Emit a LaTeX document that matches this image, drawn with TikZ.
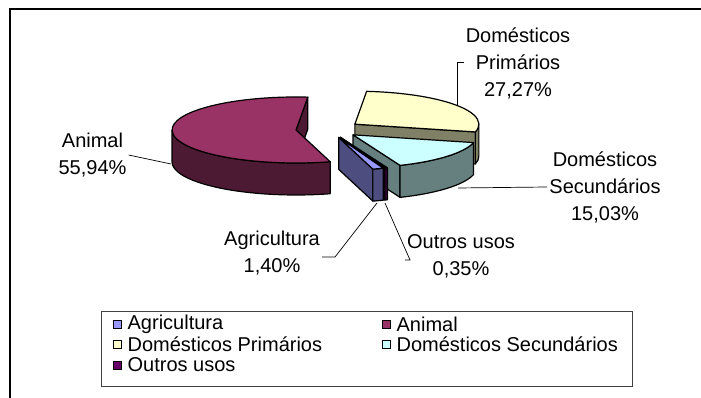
\documentclass[tikz,border=0pt]{standalone}
\usepackage{fontspec}
\setmainfont{Liberation Sans}
\usetikzlibrary{calc,positioning}

\def\rx{124}
\def\ry{33}
\def\dep{32}

\definecolor{agriTop}{HTML}{9999FF}
\definecolor{agriSide}{HTML}{4D4D80}
\definecolor{animTop}{HTML}{993366}
\definecolor{animSide}{HTML}{4D1A33}
\definecolor{primTop}{HTML}{FFFFCC}
\definecolor{primSide}{HTML}{808066}
\definecolor{secTop}{HTML}{CCFFFF}
\definecolor{secSide}{HTML}{668080}
\definecolor{outTop}{HTML}{660066}
\definecolor{outSide}{HTML}{330033}

% one cut face, the outer wall and the top of a slice
\newcommand{\sliceface}[3]{%
  \filldraw[slice, fill=#3] (#1) -- ++({\rx*cos(#2)},{\ry*sin(#2)}) -- ++(0,-\dep) -- ++({-\rx*cos(#2)},{-\ry*sin(#2)}) -- cycle;}
\newcommand{\slicewall}[4]{%
  \filldraw[slice, fill=#4] ($(#1)+({\rx*cos(#2)},{\ry*sin(#2)})$) arc[start angle=#2, end angle=#3, x radius=\rx, y radius=\ry] -- ++(0,-\dep) arc[start angle=#3, end angle=#2, x radius=\rx, y radius=\ry] -- cycle;}
\newcommand{\slicetop}[4]{%
  \filldraw[slice, fill=#4] (#1) -- ++({\rx*cos(#2)},{\ry*sin(#2)}) arc[start angle=#2, end angle=#3, x radius=\rx, y radius=\ry] -- cycle;}

\tikzset{
  slice/.style={draw=black, line width=1.2, line join=round},
  lbl/.style={font=\fontsize{20}{27}\selectfont, align=center, inner sep=2pt},
  leader/.style={draw=black, line width=0.7},
  legmark/.style={draw=black, line width=0.9, minimum size=8, inner sep=0pt},
  legtext/.style={font=\fontsize{20}{20}\selectfont, inner sep=0pt}
}

\begin{document}
\begin{tikzpicture}[x=1pt,y=1pt]
  \useasboundingbox (0,0) rectangle (701,398);
  \draw[line width=1.2] (10,0) -- (10,389) -- (701,389);

  \coordinate (pieC) at (328.4,268.8);
  \coordinate (animC) at ($(pieC)+(185.29:32.5 and 8.65)$);
  \coordinate (primC) at ($(pieC)+(35.48:32.5 and 8.65)$);
  \coordinate (secC) at ($(pieC)+(-40.67:32.5 and 8.65)$);
  \coordinate (agriC) at ($(pieC)+(288.5:32.5 and 8.65)$);
  \coordinate (outC) at ($(pieC)+(291.65:32.5 and 8.65)$);

  % Domesticos Primarios
  \sliceface{primC}{346.39}{primSide}
  \slicewall{primC}{346.39}{360}{primSide}
  \slicetop{primC}{-13.61}{84.56}{primTop}
  % Animal
  \sliceface{animC}{84.56}{animSide}
  \slicewall{animC}{180}{285.98}{animSide}
  \slicetop{animC}{84.56}{285.98}{animTop}
  % Domesticos Secundarios
  \sliceface{secC}{292.28}{secSide}
  \slicewall{secC}{292.28}{346.39}{secSide}
  \slicetop{secC}{292.28}{346.39}{secTop}
  % Outros usos
  \sliceface{outC}{291.02}{outSide}
  \slicewall{outC}{291.02}{292.28}{outSide}
  \slicetop{outC}{291.02}{292.28}{outTop}
  % Agricultura
  \sliceface{agriC}{285.98}{agriSide}
  \slicewall{agriC}{285.98}{291.02}{agriSide}
  \slicetop{agriC}{285.98}{291.02}{agriTop}

  % labels
  \node[lbl] (lblPrim) at (518,335) {Domésticos\\Primários\\27,27\%};
  \node[lbl] (lblAnim) at (92.5,243) {Animal\\55,94\%};
  \node[lbl] (lblSec) at (605,211) {Domésticos\\Secundários\\15,03\%};
  \node[lbl] (lblAgri) at (272,144.5) {Agricultura\\1,40\%};
  \node[lbl] (lblOut) at (461,141.5) {Outros usos\\0,35\%};

  \coordinate (primElbow) at (457,336);
  \coordinate (primTip) at (457,293);
  \coordinate (animTip) at (171,234);
  \coordinate (secTip) at (458,210);
  \coordinate (agriElbow) at (335,141);
  \coordinate (agriTip) at (377,195);
  \coordinate (outElbow) at (410,138);
  \coordinate (outTip) at (385,195);
  \draw[leader] (lblPrim.west |- primElbow) -- (primElbow) -- (primTip);
  \draw[leader] (lblAnim.east) -- (animTip);
  \draw[leader] (lblSec.west) -- (secTip);
  \draw[leader] (lblAgri.east |- agriElbow) -- (agriElbow) -- (agriTip);
  \draw[leader] (lblOut.west |- outElbow) -- (outElbow) -- (outTip);

  % legend
  \draw[draw=black!75, line width=0.9] (101.5,12) rectangle (632,87);
  \node[legmark, fill=agriTop] (mAgri) at (117,73.3) {};
  \node[legtext, right=6pt of mAgri] (tAgri) {Agricultura};
  \node[legmark, fill=primTop] (mPrim) at (117,53.6) {};
  \node[legtext, right=6pt of mPrim] (tPrim) {Domésticos Primários};
  \node[legmark, fill=outTop] (mOut) at (117,33) {};
  \node[legtext, right=6pt of mOut] (tOut) {Outros usos};
  \node[legmark, fill=animTop] (mAnim) at (386,73.3) {};
  \node[legtext, right=6pt of mAnim] (tAnim) {Animal};
  \node[legmark, fill=secTop] (mSec) at (386,53.6) {};
  \node[legtext, right=6pt of mSec] (tSec) {Domésticos Secundários};
\end{tikzpicture}
\end{document}
